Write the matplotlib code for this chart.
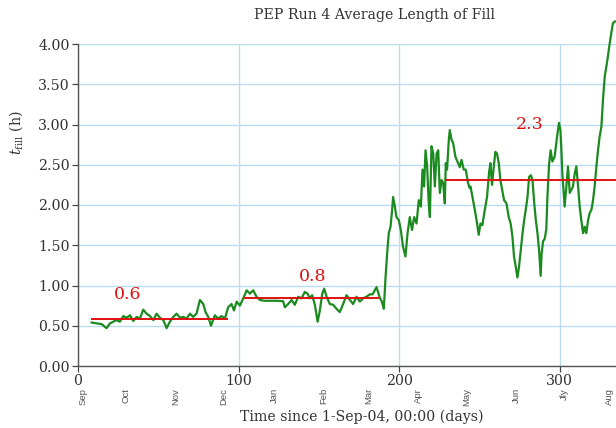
import matplotlib
matplotlib.use("Agg")
import matplotlib.pyplot as plt

# Average fill length (hours) versus days since 1-Sep-04
days = [8.5, 11.6, 14.7, 17.8, 19.9, 22.0, 24.0, 26.0, 28.2, 30.3, 32.4, 34.4, 36.5, 38.6,
        40.6, 42.7, 44.8, 46.9, 48.9, 51.0, 53.1, 55.2, 57.2, 59.3, 61.4, 63.5, 65.5, 67.6,
        69.7, 71.7, 73.8, 75.9, 78.0, 79.4, 81.1, 82.8, 85.2, 87.3, 89.4, 91.5, 93.5, 95.6,
        97.1, 98.8, 100.8, 102.9,
        105.0, 107.0, 109.1, 111.2, 113.3, 116.0, 120.0, 124.0, 127.7, 128.8, 130.9, 133.0,
        135.0, 137.1, 139.2, 141.2, 142.9, 144.4, 145.8, 147.5, 149.2, 150.6, 152.1, 153.3,
        154.8, 156.8, 158.9, 161.0, 163.0, 165.1, 167.2, 169.3, 171.3, 173.4, 175.5, 177.5,
        179.6, 181.7, 183.4, 185.9, 187.9, 189.2, 190.4, 191.5, 192.5, 193.5, 194.6,
        195.6, 196.2, 197.3, 198.3, 199.8, 201.0, 202.4, 203.9, 205.2, 206.6, 208.0, 209.3,
        210.8, 212.2, 213.5, 214.5, 215.5, 216.4, 217.4, 218.3, 219.1, 220.1, 221.2, 222.2,
        223.3, 224.3, 225.3, 226.4, 227.4, 228.4, 229.0, 229.8, 230.9, 231.5, 232.6, 233.6,
        235.0, 236.7, 237.7, 238.8, 240.2, 241.4, 242.9, 243.9,
        244.4, 245.6, 247.1, 248.5, 249.5, 250.6, 251.8, 253.3, 254.7, 256.0, 256.8, 257.8,
        258.9, 259.9, 260.9, 262.0, 263.0, 264.1, 265.3, 266.8, 268.2, 269.4, 270.5, 271.5,
        272.6, 273.6, 274.6, 275.7, 276.8, 277.8, 278.8, 279.9, 280.9, 282.0, 283.0, 284.1,
        285.1, 286.1, 287.1, 288.1, 288.7, 289.6, 290.6, 291.6, 292.3, 293.3, 294.3, 295.4,
        296.8, 298.3, 299.5,
        300.4, 301.0, 301.6, 302.4, 303.0, 304.1, 305.1, 306.2, 307.2, 308.2, 309.3, 310.3,
        311.4, 312.4, 313.4, 314.5, 315.5, 316.5, 317.6, 318.6, 319.7, 320.7, 321.7, 322.8,
        323.8, 324.8, 325.9, 326.9, 328.0, 329.0, 330.0, 331.1, 332.1, 333.1, 334.4]
t_fill = [0.54, 0.53, 0.52, 0.47, 0.53, 0.55, 0.57, 0.55, 0.62, 0.60, 0.63, 0.56, 0.61, 0.59,
          0.70, 0.65, 0.62, 0.57, 0.65, 0.60, 0.57, 0.47, 0.55, 0.61, 0.65, 0.60, 0.61, 0.59,
          0.65, 0.61, 0.65, 0.82, 0.77, 0.67, 0.61, 0.50, 0.63, 0.59, 0.62, 0.59, 0.73, 0.77,
          0.69, 0.80, 0.75, 0.84,
          0.94, 0.90, 0.94, 0.86, 0.82, 0.81, 0.81, 0.81, 0.805, 0.73, 0.77, 0.82,
          0.76, 0.86, 0.84, 0.92, 0.90, 0.84, 0.88, 0.76, 0.55, 0.69, 0.90, 0.96,
          0.86, 0.77, 0.76, 0.71, 0.67, 0.77, 0.88, 0.82, 0.77, 0.86, 0.80, 0.84,
          0.86, 0.89, 0.89, 0.98, 0.85, 0.80, 0.71, 1.10, 1.40, 1.65, 1.73,
          1.94, 2.10, 1.98, 1.85, 1.81, 1.69, 1.48, 1.36, 1.65, 1.85, 1.69, 1.85,
          1.77, 2.06, 1.98, 2.44, 2.23, 2.68, 2.48, 2.06, 1.85, 2.73, 2.64, 2.23,
          2.64, 2.68, 2.15, 2.31, 2.27, 2.02, 2.52, 2.44, 2.81, 2.93, 2.81, 2.77,
          2.60, 2.52, 2.47, 2.56, 2.44, 2.44, 2.27, 2.21,
          2.23, 2.10, 1.94, 1.77, 1.63, 1.77, 1.75, 1.94, 2.10, 2.41, 2.52, 2.25,
          2.48, 2.66, 2.64, 2.52, 2.31, 2.19, 2.06, 2.02, 1.85, 1.77, 1.61, 1.36,
          1.23, 1.10, 1.23, 1.44, 1.65, 1.81, 1.94, 2.10, 2.35, 2.37, 2.31, 2.02,
          1.81, 1.65, 1.44, 1.12, 1.40, 1.55, 1.58, 1.70, 2.10, 2.50, 2.68, 2.54,
          2.60, 2.85, 3.02,
          2.93, 2.68, 2.39, 2.15, 1.98, 2.23, 2.48, 2.15, 2.19, 2.23, 2.39, 2.48,
          2.23, 1.98, 1.81, 1.65, 1.73, 1.65, 1.81, 1.90, 1.94, 2.06, 2.23, 2.48,
          2.68, 2.85, 2.97, 3.31, 3.60, 3.72, 3.85, 4.01, 4.14, 4.26, 4.28]

# Period averages: start day, end day, mean fill length
period_start = [8.5, 104.0, 229.0]
period_end = [92.5, 186.7, 335.0]
period_mean = [0.58, 0.84, 2.31]
label_x = [31.0, 146.0, 281.0]
label_y = [0.89, 1.11, 3.0]

x_ticks = [0, 100, 200, 300]
y_ticks = [0.0, 0.5, 1.0, 1.5, 2.0, 2.5, 3.0, 3.5, 4.0]
month_names = ["Sep", "Oct", "Nov", "Dec", "Jan", "Feb", "Mar", "Apr", "May", "Jun", "Jly", "Aug"]
month_days = [3, 30, 61, 91, 122, 153, 181, 212, 242, 273, 303, 331]

plt.rcParams["font.family"] = "DejaVu Serif"
plt.rcParams["mathtext.fontset"] = "dejavuserif"

W, H = 616, 428
fig = plt.figure(figsize=(W / 100, H / 100), dpi=100)
ax_l, ax_r, ax_t, ax_b = 78, 616, 44, 366
ax = fig.add_axes([ax_l / W, (H - ax_b) / H, (ax_r - ax_l) / W, (ax_b - ax_t) / H])

grid_col = "#bcdcf3"
text_col = "#333333"

ax.plot(days, t_fill, color="#1b8a1f", lw=1.6, clip_on=False, zorder=3)
for s, e, m, lx, ly in zip(period_start, period_end, period_mean, label_x, label_y):
    ax.plot([s, e], [m, m], color="#e01010", lw=1.4, zorder=4, clip_on=False)
    ax.text(lx, ly, f"{m:.1f}", color="#e01010", fontsize=12.5, ha="center", va="center")

ax.set_xlim(0, 335)
ax.set_ylim(0, 4)
ax.set_xticks(x_ticks)
ax.set_yticks(y_ticks)
ax.set_yticklabels([f"{v:.2f}" for v in y_ticks])
ax.tick_params(axis="both", labelsize=10.2, colors="#444444", labelcolor=text_col,
               length=4, width=0.9, direction="out")
ax.tick_params(axis="x", pad=1.5)
ax.tick_params(axis="y", pad=2)

ax.grid(True, color=grid_col, lw=1.0, zorder=0)
ax.set_axisbelow(True)
for side in ("top", "right"):
    ax.spines[side].set_visible(False)
for side in ("left", "bottom"):
    ax.spines[side].set_color("#555555")
    ax.spines[side].set_linewidth(1.0)

for name, d in zip(month_names, month_days):
    ax.annotate(name, xy=(d, 0), xycoords=("data", "axes fraction"),
                xytext=(0, -22), textcoords="offset pixels",
                rotation=90, ha="center", va="top", fontsize=6.8, color="#555555",
                family=["Liberation Sans Narrow", "Liberation Sans"],
                annotation_clip=False)

ax.set_xlabel("Time since 1-Sep-04, 00:00 (days)", fontsize=10.2, color=text_col)
ax.xaxis.set_label_coords((362 - ax_l) / (ax_r - ax_l), -(410 - ax_b) / (ax_b - ax_t))
ax.xaxis.label.set_va("top")

ax.set_ylabel(r"$t_{\rm fill}$ (h)", fontsize=10.2, color=text_col)
ax.yaxis.set_label_coords((16 - ax_l) / (ax_r - ax_l), (ax_b - 133) / (ax_b - ax_t))
ax.yaxis.label.set_va("center")

fig.text(375 / W, 1 - 15 / H, "PEP Run 4 Average Length of Fill", fontsize=10.2,
         color=text_col, ha="center", va="center")

fig.savefig("out.png", dpi=100)
